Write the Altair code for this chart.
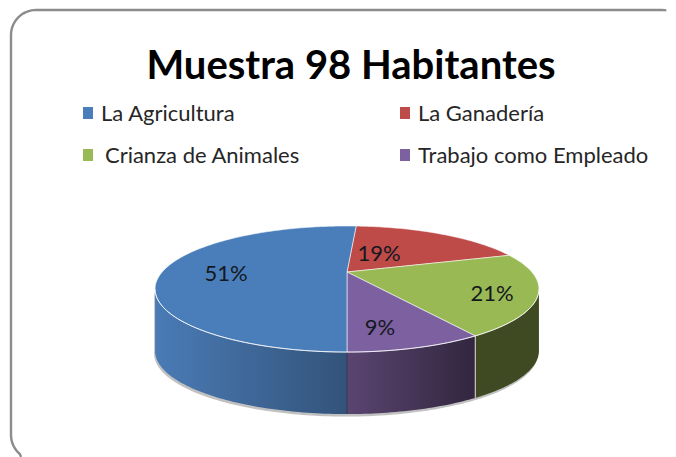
import math
import altair as alt
import pandas as pd

# ---- chart values ----
TITLE = "Muestra 98 Habitantes"
CATEGORIES = ["La Ganadería", "Crianza de Animales", "Trabajo como Empleado", "La Agricultura"]
SHARES = [19, 21, 9, 51]
LABELS = ["19%", "21%", "9%", "51%"]
COLORS = ["#BE4B48", "#98B954", "#7D60A0", "#4A7EBB"]

# ---- layout (page pixels) ----
START_ANGLE = 3.6
CX, APEX_Y, RADIUS = 347, 272, 184.8
PERSP_A, PERSP_C = 15, 0.27
DEPTH = 62
LABEL_XY = [(379, 261), (492, 301), (380, 335), (226, 281)]
LEGEND_ROWS = [("La Agricultura", 83, 101, 107, 119, 121), ("La Ganadería", 400, 418, 107, 119, 121),
               ("Crianza de Animales", 83, 105, 149, 161, 163), ("Trabajo como Empleado", 400, 418, 149, 161, 163)]

FONT = "Lato"
xs = alt.Scale(domain=[8, 668], nice=False, zero=False)
ys = alt.Scale(domain=[457, 8], nice=False, zero=False)
X = lambda f="x": alt.X(f"{f}:Q", scale=xs, axis=None)
Y = lambda f="y": alt.Y(f"{f}:Q", scale=ys, axis=None)


def project(phi, f=1.0):
    a = math.radians(phi)
    s, v = math.sin(a) * f, math.cos(a) * f
    d = PERSP_C * v + 1
    return CX + RADIUS * s / d, (PERSP_A * v + APEX_Y) / d


def rim(a0, a1, step=1.0):
    n = max(2, int(abs(a1 - a0) / step))
    return [project(a0 + (a1 - a0) * i / n) for i in range(n + 1)]


def path_df(points):
    return pd.DataFrame([{"i": i, "x": p[0], "y": p[1]} for i, p in enumerate(points)])


def polygon(points, fill, **kw):
    return alt.Chart(path_df(points + points[:1])).mark_line(fill=fill, interpolate="linear", **kw) \
        .encode(X(), Y(), order="i:Q")


def wall(a0, a1, fill, depth=DEPTH, dx=0, **kw):
    top = [(p[0] + dx, p[1]) for p in rim(a0, a1)]
    bottom = [(p[0], p[1] + depth) for p in reversed(top)]
    return polygon(top + bottom, fill, strokeWidth=0, **kw)


def grad(c0, c1):
    return alt.Gradient(gradient="linear", x1=0, x2=1, y1=0, y2=0,
                        stops=[alt.GradientStop(offset=0, color=c0), alt.GradientStop(offset=1, color=c1)])


layers = []

# rounded frame, running off the page at the right and bottom
frame = [(21, 457)]
frame += [(36 - 25 * math.cos(math.radians(t)), 435 + 25 * math.sin(math.radians(t))) for t in range(50, -1, -5)]
frame += [(36 - 25 * math.cos(math.radians(t)), 35 - 25 * math.sin(math.radians(t))) for t in range(0, 91, 5)]
frame += [(662 + 25 * math.sin(math.radians(t)), 35 - 25 * math.cos(math.radians(t))) for t in range(0, 15, 5)]
layers.append(alt.Chart(path_df(frame)).mark_line(color="#8C8C8C", strokeWidth=2.4, interpolate="linear")
              .encode(X(), Y(), order="i:Q"))

# title
layers.append(alt.Chart(pd.DataFrame({"t": [TITLE], "x": [351], "y": [79]}))
              .mark_text(font=FONT, fontWeight="bold", fontSize=40, color="#000000", align="center", baseline="alphabetic")
              .encode(X(), Y(), text="t:N"))

# legend
col = dict(zip(CATEGORIES, COLORS))
leg = pd.DataFrame([{"t": t, "c": col[t], "x": x, "x2": x + 10, "tx": tx, "y": y0, "y2": y1, "by": by}
                    for t, x, tx, y0, y1, by in LEGEND_ROWS])
layers.append(alt.Chart(leg).mark_rect().encode(X(), x2="x2:Q", y=Y(), y2="y2:Q", fill=alt.Fill("c:N", scale=None)))
layers.append(alt.Chart(leg).mark_text(font=FONT, fontSize=22, color="#262626", align="left", baseline="alphabetic")
              .encode(X("tx"), Y("by"), text="t:N"))

# shadow under the pie
layers.append(wall(100, 256, "#A6A6A6", depth=DEPTH + 2.5, dx=-1, opacity=0.7))

# walls
angles = []
a = START_ANGLE
for s in SHARES:
    angles.append((a, a + s * 3.6))
    a += s * 3.6
VIS_R, VIS_L = 105.7, 254.3
layers.append(wall(VIS_R, angles[1][1], "#3F4A22"))
layers.append(wall(angles[2][0], angles[2][1], grad("#5A4570", "#32263F")))
layers.append(wall(angles[3][0], VIS_L, grad("#4A7BB6", "#33537A")))

# wall seams
for phi, c, o in [(angles[1][1], "#FFFFFF", 0.8), (180, "#1F2A3A", 0.5)]:
    px, py = project(phi)
    layers.append(alt.Chart(pd.DataFrame({"x": [px], "y": [py], "y2": [py + DEPTH]}))
                  .mark_rule(color=c, opacity=o, strokeWidth=1).encode(X(), Y(), y2="y2:Q"))

# top slices
for (a0, a1), c in zip(angles, COLORS):
    pts = [project(a0, 0)] + rim(a0, a1)
    layers.append(polygon(pts, c, stroke="#FFFFFF", strokeWidth=1, strokeOpacity=0.55))

# white front rim
layers.append(alt.Chart(path_df(rim(VIS_R, VIS_L))).mark_line(color="#FFFFFF", strokeWidth=1, opacity=0.7)
              .encode(X(), Y(), order="i:Q"))

# percentage labels
lab = pd.DataFrame([{"t": t, "x": p[0], "y": p[1]} for t, p in zip(LABELS, LABEL_XY)])
layers.append(alt.Chart(lab).mark_text(font=FONT, fontSize=22, color="#14181F", align="center", baseline="alphabetic")
              .encode(X(), Y(), text="t:N"))

chart = alt.layer(*layers).properties(width=660, height=449, padding=0, autosize=alt.AutoSizeParams(type="none")) \
    .configure_view(stroke=None)
chart.save("out.html", embed_options={"renderer": "svg", "actions": False})
